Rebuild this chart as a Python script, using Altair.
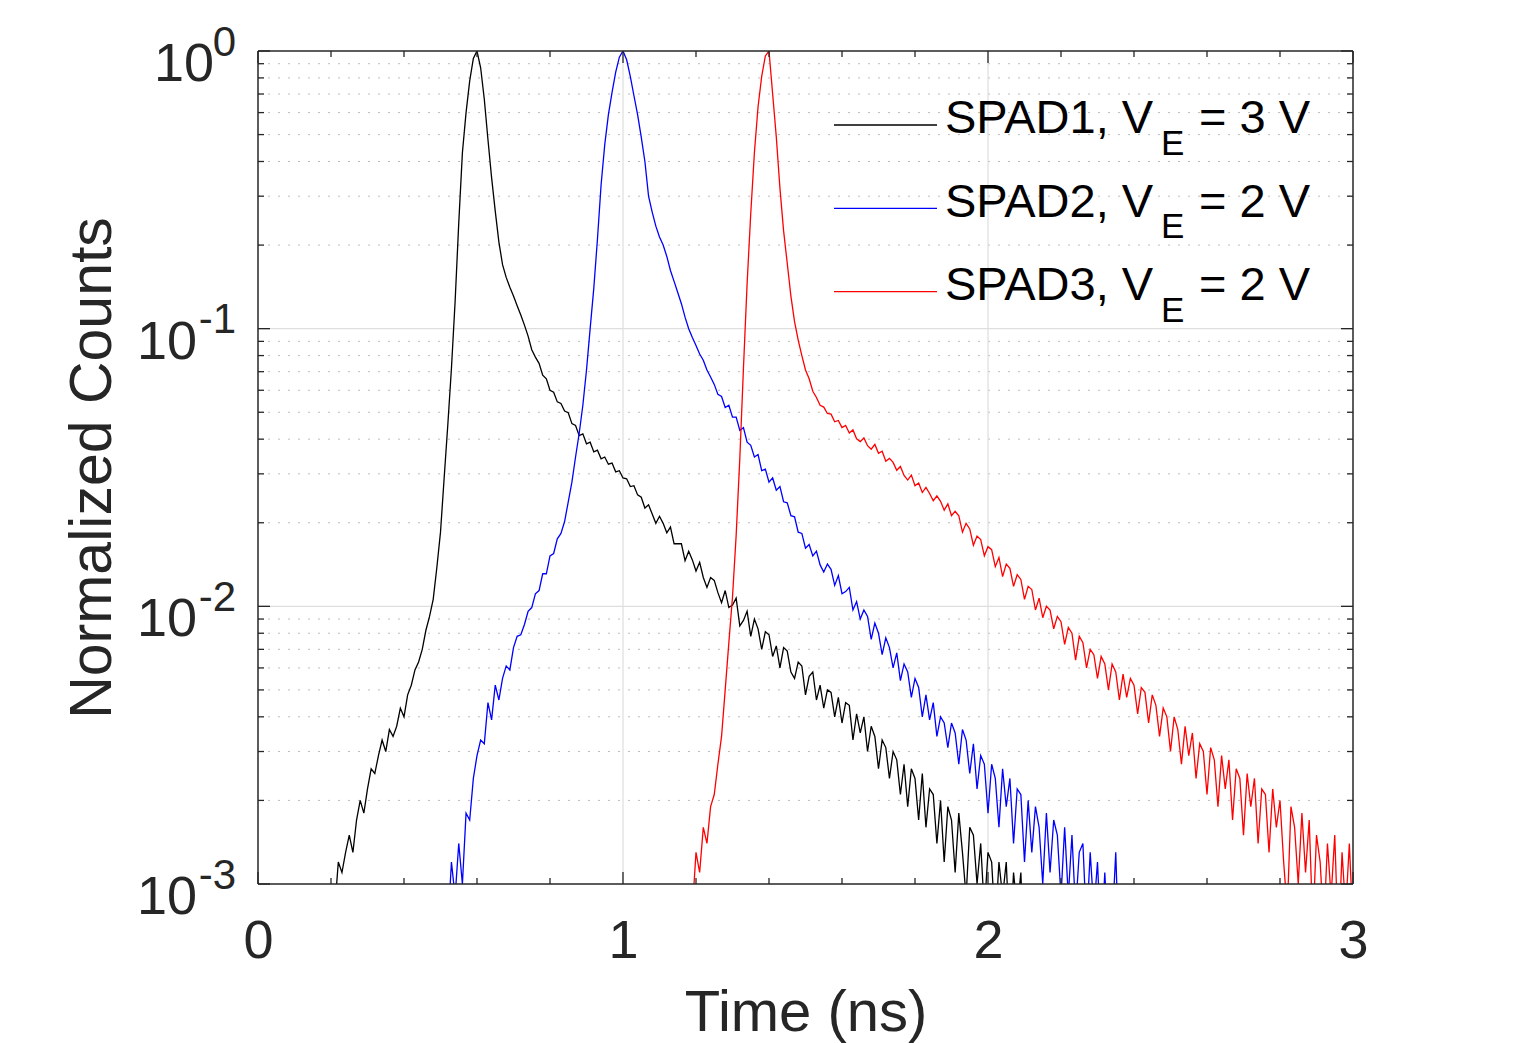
import altair as alt
import pandas as pd

# ---------------- data ----------------
SERIES = ["SPAD1", "SPAD2", "SPAD3"]
COLORS = ["#000000", "#0000ff", "#ff0000"]
LEGEND_MAIN = ["SPAD1, V", "SPAD2, V", "SPAD3, V"]
LEGEND_SUB = ["E", "E", "E"]
LEGEND_TAIL = ["= 3 V", "= 2 V", "= 2 V"]

BIN_NS = 0.01  # time bin (ns)

# SPAD1 (black): first bin 0.21 ns
BLACK_T0 = 0.21
BLACK_V = [
    0.0008, 0.0012, 0.0011, 0.0013, 0.0015, 0.0013, 0.0017, 0.0020, 0.0018, 0.0022,
    0.0026, 0.0025, 0.0029, 0.0033, 0.0030, 0.0036, 0.0034, 0.0037, 0.0043, 0.0040,
    0.0048, 0.0052, 0.0059, 0.0063, 0.0070, 0.0082, 0.0092, 0.0106, 0.0138, 0.0185,
    0.029, 0.045, 0.072, 0.125, 0.24, 0.43, 0.60, 0.78, 0.94, 1.00,
    0.87, 0.67, 0.48, 0.35, 0.265, 0.205, 0.170, 0.153, 0.141, 0.131,
    0.121, 0.112, 0.103, 0.094, 0.084, 0.079, 0.075, 0.068, 0.066, 0.060,
    0.059, 0.0545, 0.0538, 0.0505, 0.0498, 0.0455, 0.0448, 0.0412, 0.0418, 0.0385,
    0.039, 0.036, 0.0365, 0.034, 0.0345, 0.0325, 0.0328, 0.0305, 0.0308, 0.0290,
    0.0288, 0.0270, 0.0272, 0.0252,
    0.0247, 0.0226, 0.0232, 0.0215, 0.0199, 0.0211, 0.0199, 0.0184, 0.0193, 0.0168,
    0.0168, 0.0168, 0.0146, 0.0158, 0.0147, 0.0134, 0.0144, 0.0127, 0.0117, 0.0127,
    0.0124, 0.0112, 0.0103, 0.0114, 0.0099, 0.0101, 0.0107, 0.0085, 0.0089, 0.0096,
    0.0078, 0.0090, 0.0083, 0.0070, 0.0081, 0.0079, 0.0066, 0.0072, 0.0060, 0.0071,
    0.0069, 0.0058, 0.0055, 0.0063, 0.0061, 0.0048, 0.0056, 0.0058, 0.0046, 0.0052,
    0.0043, 0.0050, 0.0049, 0.0040, 0.0047, 0.0038, 0.0045, 0.0044, 0.0033, 0.0041,
    0.0035, 0.0040, 0.0030, 0.0037, 0.0034, 0.0026, 0.0033, 0.0031, 0.0024, 0.0030,
    0.0028, 0.0021, 0.0027, 0.0019, 0.0026, 0.0024, 0.0017, 0.0025, 0.0016, 0.0022,
    0.0021, 0.0014, 0.0020, 0.0012, 0.0019, 0.0017, 0.0011, 0.0018, 0.0013, 0.0009,
    0.0016, 0.0015, 0.0010, 0.0014, 0.0008, 0.0013, 0.0012, 0.0007, 0.0012, 0.0009,
    0.0012, 0.0006, 0.0011, 0.0008, 0.0011, 0.0005, 0.0010, 0.0006, 0.0005,
]

# SPAD2 (blue): first bin 0.52 ns
BLUE_T0 = 0.52
BLUE_V = [
    0.0007, 0.0012, 0.0009, 0.0014, 0.0010, 0.0018, 0.0017, 0.0024, 0.0029, 0.0033,
    0.0032, 0.0045, 0.0039, 0.0052, 0.0046, 0.0055, 0.0061, 0.0059, 0.0071, 0.0078,
    0.0079, 0.0086, 0.0096, 0.0099, 0.0111, 0.0114, 0.0131, 0.0131, 0.0152, 0.0155,
    0.0175, 0.0183, 0.0202, 0.0238, 0.0280, 0.0345, 0.042, 0.053, 0.071, 0.100,
    0.140, 0.21, 0.33, 0.46, 0.59, 0.71, 0.84, 0.95, 1.00,
    0.93, 0.81, 0.69, 0.59, 0.49, 0.40, 0.30, 0.263, 0.234, 0.214,
    0.200, 0.182, 0.162, 0.148, 0.135, 0.123, 0.110, 0.100, 0.093, 0.087,
    0.081, 0.077, 0.071, 0.067, 0.063, 0.058, 0.057, 0.052, 0.053, 0.048,
    0.048, 0.043, 0.044, 0.039, 0.038, 0.0345, 0.0352, 0.0308, 0.0312, 0.0280,
    0.0290, 0.0262, 0.0270, 0.0238, 0.0236, 0.0212, 0.0210, 0.0185, 0.0183, 0.0162,
    0.0167, 0.0152, 0.0158, 0.0141, 0.0133, 0.0142, 0.0136, 0.0119, 0.0129, 0.0111,
    0.0113, 0.0117, 0.0097, 0.0104, 0.0090, 0.0097, 0.0092, 0.0076, 0.0087, 0.0080,
    0.0067, 0.0077, 0.0071, 0.0060, 0.0068, 0.0054, 0.0062, 0.0058, 0.0047, 0.0055,
    0.0051, 0.0040, 0.0048, 0.0039, 0.0045, 0.0034, 0.0040, 0.0038, 0.0031, 0.0038,
    0.0035, 0.0027, 0.0036, 0.0033, 0.0025, 0.0032, 0.0022, 0.0029, 0.0027, 0.0018,
    0.0027, 0.0024, 0.0016, 0.0026, 0.0019, 0.0024, 0.0014, 0.0022, 0.0021, 0.0012,
    0.0020, 0.0013, 0.0019, 0.0016, 0.0010, 0.0018, 0.0011, 0.0017, 0.0015, 0.0009,
    0.0016, 0.0009, 0.0015, 0.0008, 0.0013, 0.0014, 0.0007, 0.0013, 0.0008, 0.0012,
    0.0006, 0.0011, 0.0006, 0.0007, 0.0013, 0.0005,
]

# SPAD3 (red): first bin 1.19 ns
RED_T0 = 1.19
RED_V = [
    0.0008, 0.0013, 0.0011, 0.0016, 0.0014, 0.0019, 0.0021, 0.0027, 0.0034, 0.0050,
    0.0074, 0.0108, 0.018, 0.034, 0.072, 0.145, 0.26, 0.43, 0.63, 0.81,
    0.96, 1.00,
    0.70, 0.49, 0.32, 0.225, 0.172, 0.131, 0.106, 0.091, 0.080, 0.071,
    0.066, 0.0595, 0.0565, 0.0530, 0.0522, 0.0495, 0.0492, 0.0462, 0.0467, 0.0440,
    0.0448, 0.0421, 0.0432, 0.0401, 0.0392, 0.0404, 0.0379, 0.0368, 0.0383, 0.0356,
    0.0362, 0.0333, 0.0341, 0.0330, 0.0309, 0.0319, 0.0296, 0.0285, 0.0297, 0.0272,
    0.0278, 0.0257, 0.0268, 0.0255, 0.0240, 0.0250, 0.0239, 0.0222, 0.0234, 0.0212,
    0.0220, 0.0212, 0.0185, 0.0199, 0.0190, 0.0166, 0.0179, 0.0174, 0.0152, 0.0164,
    0.0160, 0.0139, 0.0150, 0.0128, 0.0142, 0.0137, 0.0118, 0.0130, 0.0125, 0.0106,
    0.0118, 0.0115, 0.0097, 0.0107, 0.0091, 0.0100, 0.0097, 0.0083, 0.0092, 0.0088,
    0.0073, 0.0084, 0.0080, 0.0064, 0.0078, 0.0074, 0.0060, 0.0070, 0.0067, 0.0055,
    0.0066, 0.0062, 0.0050, 0.0062, 0.0058, 0.0046, 0.0057, 0.0047, 0.0055, 0.0052,
    0.0041, 0.0051, 0.0049, 0.0038, 0.0048, 0.0044, 0.0034, 0.0043, 0.0040, 0.0030,
    0.0040, 0.0036, 0.0027, 0.0037, 0.0029, 0.0035, 0.0024, 0.0032, 0.0030, 0.0021,
    0.0031, 0.0028, 0.0019, 0.0029, 0.0022, 0.0028, 0.0017, 0.0026, 0.0024, 0.0015,
    0.0025, 0.0019, 0.0024, 0.0014, 0.0022, 0.0021, 0.0013, 0.0022, 0.0016, 0.0020,
    0.0012, 0.0008, 0.0019, 0.0016, 0.0010, 0.0018, 0.0011, 0.0017, 0.0007, 0.0015,
    0.0012, 0.0007, 0.0014, 0.0009, 0.0015, 0.0006, 0.0013, 0.0008, 0.0014, 0.0007,
]

X_MAJOR = [0, 1, 2, 3]
X_MINOR = [0.2, 0.4, 0.6, 0.8, 1.2, 1.4, 1.6, 1.8, 2.2, 2.4, 2.6, 2.8]
X_GRID = [1, 2]
Y_DECADES = [1.0, 0.1, 0.01, 0.001]
Y_EXP = ["0", "-1", "-2", "-3"]
Y_GRID = [0.1, 0.01]
Y_MINOR = [0.002, 0.003, 0.004, 0.005, 0.006, 0.007, 0.008, 0.009,
           0.02, 0.03, 0.04, 0.05, 0.06, 0.07, 0.08, 0.09,
           0.2, 0.3, 0.4, 0.5, 0.6, 0.7, 0.8, 0.9]

# ---------------- build table ----------------
rows = []
for name, t0, vals in [(SERIES[0], BLACK_T0, BLACK_V),
                       (SERIES[1], BLUE_T0, BLUE_V),
                       (SERIES[2], RED_T0, RED_V)]:
    for i, v in enumerate(vals):
        rows.append({"t": round(t0 + i * BIN_NS, 3), "v": v, "series": name})
df = pd.DataFrame(rows)

# ---------------- layout ----------------
W, H = 1095, 833
FONT = "Liberation Sans, Arial, Helvetica, sans-serif"
AX = "#262626"

xs = alt.Scale(domain=[0, 3], nice=False, zero=False)
ys = alt.Scale(type="log", domain=[0.001, 1], nice=False)

X_AXIS = alt.Axis(
    values=X_MAJOR, format="d", labelFontSize=54, labelFont=FONT, labelColor=AX,
    labelBaseline="alphabetic", labelPadding=73, labelFlush=False, labelOverlap=False,
    ticks=False, tickSize=0, domain=False, grid=False,
    title="Time (ns)", titleFont=FONT, titleFontSize=58, titleFontWeight="normal",
    titleColor=AX, titleBaseline="alphabetic", titleY=146, titleX=W / 2,
    titleAnchor="middle", titleAlign="center")
Y_AXIS = alt.Axis(
    labels=False, ticks=False, tickSize=0, domain=False, grid=False,
    title="Normalized Counts", titleFont=FONT, titleFontSize=59,
    titleFontWeight="normal", titleColor=AX, titleAngle=270,
    titleBaseline="alphabetic", titleAlign="center", titleX=-148, titleY=H / 2)

one = pd.DataFrame({"a": [0]})

minor_grid = alt.Chart(pd.DataFrame({"y": Y_MINOR})).mark_rule(
    color="#bdbdbd", strokeWidth=1, strokeDash=[2, 8]
).encode(y=alt.Y("y:Q", scale=ys, axis=Y_AXIS), x=alt.value(0), x2=alt.value(W))

major_grid_y = alt.Chart(pd.DataFrame({"y": Y_GRID})).mark_rule(
    color="#dedede", strokeWidth=1.2
).encode(y=alt.Y("y:Q", scale=ys, axis=Y_AXIS), x=alt.value(0), x2=alt.value(W))

major_grid_x = alt.Chart(pd.DataFrame({"x": X_GRID})).mark_rule(
    color="#dedede", strokeWidth=1.2
).encode(x=alt.X("x:Q", scale=xs, axis=X_AXIS), y=alt.value(0), y2=alt.value(H))

lines = alt.Chart(df).mark_line(strokeWidth=1.3, clip=True).encode(
    x=alt.X("t:Q", scale=xs, axis=X_AXIS),
    y=alt.Y("v:Q", scale=ys, axis=Y_AXIS),
    color=alt.Color("series:N", scale=alt.Scale(domain=SERIES, range=COLORS), legend=None),
)

def ytick(vals, x0, x1):
    return alt.Chart(pd.DataFrame({"y": vals})).mark_rule(color=AX, strokeWidth=1.3).encode(
        y=alt.Y("y:Q", scale=ys, axis=Y_AXIS), x=alt.value(x0), x2=alt.value(x1))

def xtick(vals, y0, y1):
    return alt.Chart(pd.DataFrame({"x": vals})).mark_rule(color=AX, strokeWidth=1.3).encode(
        x=alt.X("x:Q", scale=xs, axis=X_AXIS), y=alt.value(y0), y2=alt.value(y1))

ticks = [
    ytick(Y_DECADES, 0, 12), ytick(Y_DECADES, W - 12, W),
    ytick(Y_MINOR, 0, 6), ytick(Y_MINOR, W - 6, W),
    xtick(X_MAJOR, H - 12, H), xtick(X_MAJOR, 0, 12),
    xtick(X_MINOR, H - 6, H), xtick(X_MINOR, 0, 6),
]

frame = [
    alt.Chart(one).mark_rule(color=AX, strokeWidth=1.5).encode(
        x=alt.value(0), x2=alt.value(W), y=alt.value(0)),
    alt.Chart(one).mark_rule(color=AX, strokeWidth=1.5).encode(
        x=alt.value(0), x2=alt.value(W), y=alt.value(H)),
    alt.Chart(one).mark_rule(color=AX, strokeWidth=1.5).encode(
        y=alt.value(0), y2=alt.value(H), x=alt.value(0)),
    alt.Chart(one).mark_rule(color=AX, strokeWidth=1.5).encode(
        y=alt.value(0), y2=alt.value(H), x=alt.value(W)),
]

lab_df = pd.DataFrame({"y": Y_DECADES, "exp": Y_EXP})
ten_neg = alt.Chart(lab_df).transform_filter(alt.datum.exp != "0").mark_text(
    text="10", align="right", baseline="alphabetic", dy=30, fontSize=54, font=FONT, color=AX
).encode(y=alt.Y("y:Q", scale=ys, axis=Y_AXIS), x=alt.value(-61))
ten_zero = alt.Chart(lab_df).transform_filter(alt.datum.exp == "0").mark_text(
    text="10", align="right", baseline="alphabetic", dy=30, fontSize=54, font=FONT, color=AX
).encode(y=alt.Y("y:Q", scale=ys, axis=Y_AXIS), x=alt.value(-44))
exps = alt.Chart(lab_df).mark_text(
    align="right", baseline="alphabetic", dy=4.5, fontSize=42, font=FONT, color=AX
).encode(y=alt.Y("y:Q", scale=ys, axis=Y_AXIS), x=alt.value(-22), text="exp:N")

legend = []
for i in range(3):
    ly = 74 + i * 83.3
    legend.append(alt.Chart(one).mark_rule(color=COLORS[i], strokeWidth=1.3).encode(
        x=alt.value(576), x2=alt.value(679), y=alt.value(ly)))
    legend.append(alt.Chart(pd.DataFrame({"s": [LEGEND_MAIN[i]]})).mark_text(
        align="left", baseline="alphabetic", fontSize=47, font=FONT, color="#000000"
    ).encode(x=alt.value(687), y=alt.value(ly + 8.3), text="s:N"))
    legend.append(alt.Chart(pd.DataFrame({"s": [LEGEND_SUB[i]]})).mark_text(
        align="left", baseline="alphabetic", fontSize=35, font=FONT, color="#000000"
    ).encode(x=alt.value(903), y=alt.value(ly + 30), text="s:N"))
    legend.append(alt.Chart(pd.DataFrame({"s": [LEGEND_TAIL[i]]})).mark_text(
        align="left", baseline="alphabetic", fontSize=47, font=FONT, color="#000000"
    ).encode(x=alt.value(941), y=alt.value(ly + 8.3), text="s:N"))

chart = alt.layer(
    minor_grid, major_grid_y, major_grid_x, lines, *ticks, *frame,
    ten_neg, ten_zero, exps, *legend
).properties(
    width=W, height=H,
    padding={"left": 258, "top": 51, "right": 165, "bottom": 159},
    autosize=alt.AutoSizeParams(type="none"),
    background="white",
).configure_view(stroke=None)

chart.save("out.html", embed_options={"renderer": "svg", "actions": False})
